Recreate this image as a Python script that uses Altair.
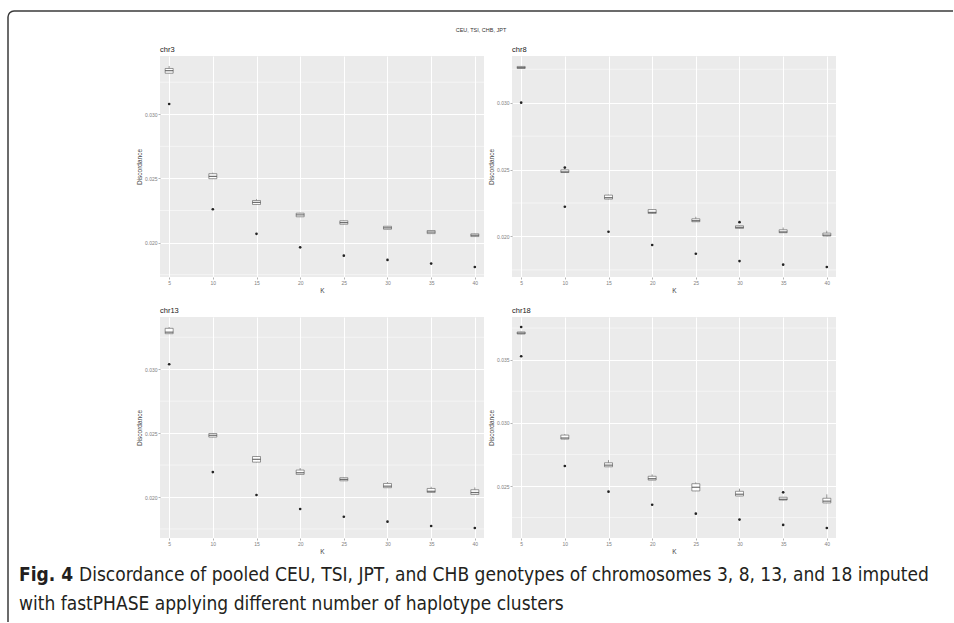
import altair as alt
import pandas as pd

K = [5, 10, 15, 20, 25, 30, 35, 40]

# chr3
chr3_q1 = [0.03320, 0.02498, 0.02297, 0.02201, 0.02143, 0.02104, 0.02070, 0.02047]
chr3_med = [0.03340, 0.02516, 0.02313, 0.02216, 0.02156, 0.02115, 0.02082, 0.02057]
chr3_q3 = [0.03357, 0.02537, 0.02328, 0.02229, 0.02170, 0.02127, 0.02094, 0.02068]
chr3_whi = [0.03376, 0.02545, 0.02338, 0.02233, 0.02173, 0.02130, 0.02096, 0.02070]
chr3_wlo = [0.03318, 0.02495, 0.02295, 0.02199, 0.02141, 0.02102, 0.02068, 0.02045]
chr3_out_k = [5, 10, 15, 20, 25, 30, 35, 40]
chr3_out_v = [0.03080, 0.02260, 0.02068, 0.01963, 0.01898, 0.01865, 0.01836, 0.01810]

# chr8
chr8_q1 = [0.03256, 0.02478, 0.02279, 0.02172, 0.02110, 0.02060, 0.02028, 0.02003]
chr8_med = [0.03262, 0.02483, 0.02290, 0.02180, 0.02118, 0.02068, 0.02034, 0.02010]
chr8_q3 = [0.03271, 0.02498, 0.02309, 0.02201, 0.02132, 0.02080, 0.02050, 0.02025]
chr8_whi = [0.03274, 0.02500, 0.02312, 0.02204, 0.02147, 0.02083, 0.02067, 0.02043]
chr8_wlo = [0.03254, 0.02476, 0.02277, 0.02170, 0.02108, 0.02058, 0.02026, 0.02001]
chr8_out_k = [5, 10, 10, 15, 20, 25, 30, 30, 35, 40]
chr8_out_v = [0.03000, 0.02515, 0.02222, 0.02035, 0.01936, 0.01871, 0.02107, 0.01816, 0.01789, 0.01772]

# chr13
chr13_q1 = [0.03278, 0.02469, 0.02273, 0.02177, 0.02127, 0.02073, 0.02036, 0.02020]
chr13_med = [0.03290, 0.02483, 0.02295, 0.02190, 0.02138, 0.02085, 0.02045, 0.02035]
chr13_q3 = [0.03320, 0.02497, 0.02317, 0.02211, 0.02151, 0.02106, 0.02067, 0.02057]
chr13_whi = [0.03330, 0.02500, 0.02320, 0.02227, 0.02154, 0.02117, 0.02080, 0.02075]
chr13_wlo = [0.03276, 0.02467, 0.02271, 0.02175, 0.02125, 0.02071, 0.02034, 0.02018]
chr13_out_k = [5, 10, 15, 20, 25, 30, 35, 40]
chr13_out_v = [0.03039, 0.02195, 0.02016, 0.01906, 0.01846, 0.01807, 0.01773, 0.01758]

# chr18
chr18_q1 = [0.03703, 0.02871, 0.02652, 0.02547, 0.02461, 0.02421, 0.02389, 0.02366]
chr18_med = [0.03710, 0.02880, 0.02665, 0.02558, 0.02490, 0.02435, 0.02395, 0.02380]
chr18_q3 = [0.03719, 0.02903, 0.02684, 0.02577, 0.02518, 0.02458, 0.02411, 0.02403]
chr18_whi = [0.03722, 0.02910, 0.02705, 0.02592, 0.02529, 0.02479, 0.02414, 0.02434]
chr18_wlo = [0.03701, 0.02869, 0.02650, 0.02545, 0.02459, 0.02419, 0.02387, 0.02364]
chr18_out_k = [5, 5, 10, 15, 20, 25, 30, 35, 35, 40]
chr18_out_v = [0.03758, 0.03527, 0.02658, 0.02455, 0.02352, 0.02281, 0.02234, 0.02450, 0.02192, 0.02168]

major_a = [0.020, 0.025, 0.030]
minor_a = [0.0175, 0.0225, 0.0275, 0.0325]
major_b = [0.025, 0.030, 0.035]
minor_b = [0.0225, 0.0275, 0.0325, 0.0375]

suptitle = "CEU, TSI, CHB, JPT"
cap_bold = "Fig. 4"
cap_line1 = "Discordance of pooled CEU, TSI, JPT, and CHB genotypes of chromosomes 3, 8, 13, and 18 imputed"
cap_line2 = "with fastPHASE applying different number of haplotype clusters"

FONT = "Liberation Sans, Arial, sans-serif"
CAP_FONT = ("Noto Sans ExtraCondensed, Noto Sans Condensed, DejaVu Sans Condensed, "
            "Liberation Sans Narrow, Arial Narrow, Roboto, sans-serif")
FRAME = "#3a3a3a"


def one(t):
    return pd.DataFrame({"t": [t]})


def panel(name, q1, med, q3, whi, wlo, out_k, out_v, major, minor, extra=()):
    df = pd.DataFrame({"K": K, "q1": q1, "med": med, "q3": q3, "whi": whi, "wlo": wlo})
    odf = pd.DataFrame({"K": out_k, "v": out_v})
    lo = min(min(out_v), min(wlo))
    hi = max(max(out_v), max(whi))
    pad = 0.05 * (hi - lo)
    ysc = alt.Scale(domain=[lo - pad, hi + pad], nice=False, zero=False, padding=0)
    xsc = alt.Scale(domain=[3.95, 41.05], nice=False, zero=False, padding=0)
    yax = alt.Axis(values=major, format=".3f", title="Discordance")
    xax = alt.Axis(values=K, title="K")
    X = alt.X("K:Q", scale=xsc, axis=xax)

    grid = alt.Chart(pd.DataFrame({"g": minor})).mark_rule(
        color="white", strokeWidth=0.5
    ).encode(y=alt.Y("g:Q", scale=ysc, axis=yax))
    wl = alt.Chart(df).mark_rule(color="#555", strokeWidth=0.6).encode(
        x=X, y=alt.Y("wlo:Q", scale=ysc, axis=yax), y2="q1:Q")
    wh = alt.Chart(df).mark_rule(color="#555", strokeWidth=0.6).encode(
        x=X, y=alt.Y("q3:Q", scale=ysc, axis=yax), y2="whi:Q")
    box = alt.Chart(df).mark_bar(width=8, fill="white", stroke="#555", strokeWidth=0.6).encode(
        x=X, y=alt.Y("q1:Q", scale=ysc, axis=yax), y2="q3:Q")
    medm = alt.Chart(df).mark_tick(orient="horizontal", size=8, thickness=1.2, color="#333").encode(
        x=X, y=alt.Y("med:Q", scale=ysc, axis=yax))
    pts = alt.Chart(odf).mark_circle(size=7, color="#222", opacity=1).encode(
        x=X, y=alt.Y("v:Q", scale=ysc, axis=yax))
    ttl = alt.Chart(one(name)).mark_text(align="left", baseline="middle", font=FONT, fontSize=7.5,
                                         color="#1a1a1a").encode(
        x=alt.value(0), y=alt.value(-6), text="t:N")
    layers = [grid, wl, wh, box, medm, pts, ttl] + list(extra)
    return alt.layer(*layers).properties(width=324, height=221)


# decorations placed relative to the chr3 plot origin
deco = [
    alt.Chart(one("top")).mark_rule(color=FRAME, strokeWidth=1.5).encode(
        x=alt.value(-146), x2=alt.value(793), y=alt.value(-45)),
    alt.Chart(one("left")).mark_rule(color=FRAME, strokeWidth=1.5).encode(
        x=alt.value(-152), y=alt.value(-39), y2=alt.value(566)),
    alt.Chart(one("corner")).mark_arc(theta=4.7124, theta2=6.2832, radius=6.75, radius2=5.25,
                                      color=FRAME).encode(x=alt.value(-146), y=alt.value(-39)),
    alt.Chart(one(suptitle)).mark_text(align="center", baseline="middle", font=FONT, fontSize=5.5,
                                       color="#333").encode(
        x=alt.value(321), y=alt.value(-26), text="t:N"),
    alt.Chart(one(cap_bold)).mark_text(align="left", baseline="middle", font=CAP_FONT, fontSize=19,
                                       fontWeight="bold", color="#231f20").encode(
        x=alt.value(-141), y=alt.value(519), text="t:N"),
    alt.Chart(one(cap_line1)).mark_text(align="left", baseline="middle", font=CAP_FONT, fontSize=19,
                                        color="#231f20").encode(
        x=alt.value(-81), y=alt.value(519), text="t:N"),
    alt.Chart(one(cap_line2)).mark_text(align="left", baseline="middle", font=CAP_FONT, fontSize=19,
                                        color="#231f20").encode(
        x=alt.value(-141), y=alt.value(548), text="t:N"),
]

p3 = panel("chr3", chr3_q1, chr3_med, chr3_q3, chr3_whi, chr3_wlo, chr3_out_k, chr3_out_v,
           major_a, minor_a, deco)
p8 = panel("chr8", chr8_q1, chr8_med, chr8_q3, chr8_whi, chr8_wlo, chr8_out_k, chr8_out_v,
           major_a, minor_a)
p13 = panel("chr13", chr13_q1, chr13_med, chr13_q3, chr13_whi, chr13_wlo, chr13_out_k, chr13_out_v,
            major_a, minor_a)
p18 = panel("chr18", chr18_q1, chr18_med, chr18_q3, chr18_whi, chr18_wlo, chr18_out_k, chr18_out_v,
            major_b, minor_b)

chart = alt.concat(
    p3, p8, p13, p18, columns=2, spacing={"row": 40, "column": 28}, bounds="flush"
).properties(
    padding={"left": 7, "top": 10, "right": 0, "bottom": 0}
).configure_view(
    fill="#EBEBEB", stroke=None
).configure_axis(
    domain=False, grid=True, gridColor="white", gridWidth=1,
    labelFont=FONT, labelFontSize=5, labelColor="#808080", labelPadding=1,
    tickColor="#666", tickSize=2, tickWidth=0.5,
    titleFont=FONT, titleFontSize=6.5, titleFontWeight="normal", titleColor="#444", titlePadding=2,
)

chart.save("out.html", embed_options={"renderer": "svg", "actions": False})
